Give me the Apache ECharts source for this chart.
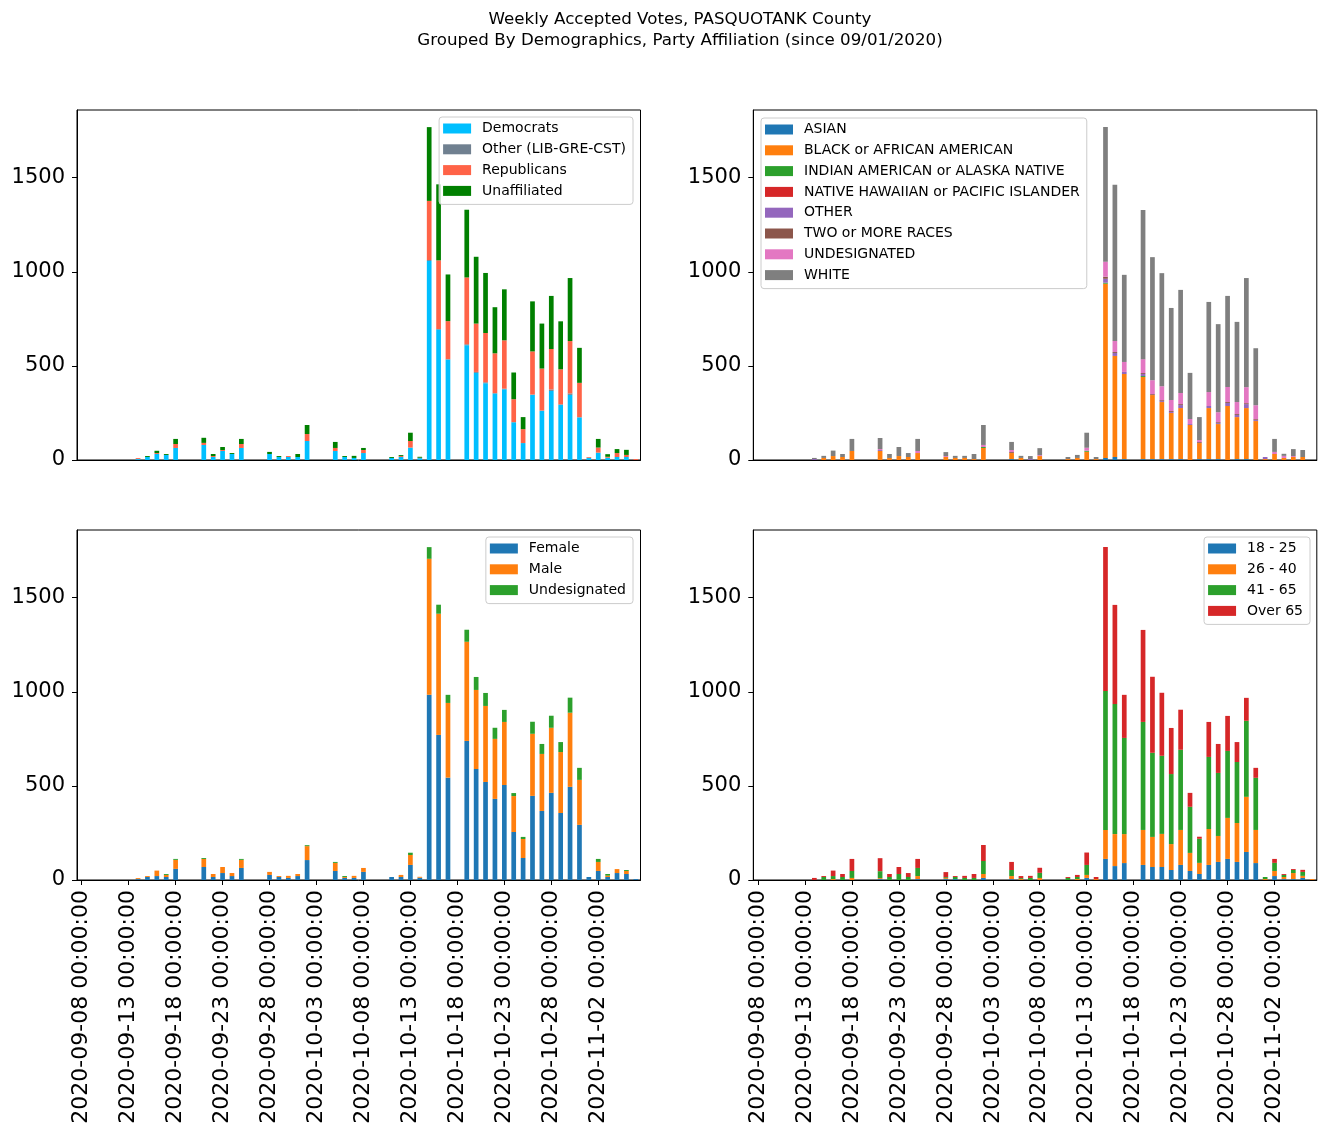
<!DOCTYPE html>
<html>
<head>
<meta charset="utf-8">
<script src="https://cdn.jsdelivr.net/npm/echarts@6/dist/echarts.min.js"></script>
<style>
html,body{margin:0;padding:0;background:#fff;}
#chart{width:1326px;height:1137px;}
</style>
</head>
<body>
<div id="chart"></div>
<script>
// ---- data ----
const barDates = ['2020-09-14','2020-09-15','2020-09-16','2020-09-17','2020-09-18',
  '2020-09-21','2020-09-22','2020-09-23','2020-09-24','2020-09-25',
  '2020-09-28','2020-09-29','2020-09-30','2020-10-01','2020-10-02',
  '2020-10-05','2020-10-06','2020-10-07','2020-10-08',
  '2020-10-11','2020-10-12','2020-10-13','2020-10-14',
  '2020-10-15','2020-10-16','2020-10-17',
  '2020-10-19','2020-10-20','2020-10-21','2020-10-22','2020-10-23','2020-10-24','2020-10-25',
  '2020-10-26','2020-10-27','2020-10-28','2020-10-29','2020-10-30','2020-10-31','2020-11-01',
  '2020-11-02','2020-11-03','2020-11-04','2020-11-05','2020-11-06'];

const tickLabels = ['2020-09-08 00:00:00','2020-09-13 00:00:00','2020-09-18 00:00:00','2020-09-23 00:00:00',
  '2020-09-28 00:00:00','2020-10-03 00:00:00','2020-10-08 00:00:00','2020-10-13 00:00:00',
  '2020-10-18 00:00:00','2020-10-23 00:00:00','2020-10-28 00:00:00','2020-11-02 00:00:00'];
const yTicks = [0, 500, 1000, 1500];

// Party
const democrats    = [5,16,32,27,64, 80,16,48,32,64, 32,16,16,16,101, 48,16,11,37, 11,16,66,10, 1058,693,534, 610,463,408,353,376,200,90, 346,261,367,293,346,227,12, 39,12,16,16,0];
const otherParty   = [0,0,0,0,0, 0,0,0,0,0, 0,0,0,0,0, 0,0,0,0, 0,0,0,0, 5,3,2, 5,5,5,3,3,2,0, 2,2,8,3,8,0,0, 0,0,0,0,0];
const republicans  = [5,0,5,0,21, 11,5,5,0,21, 0,0,5,0,37, 16,0,0,16, 0,5,35,2, 314,365,202, 355,257,262,211,257,121,74, 229,223,215,186,278,183,4, 27,5,21,11,5];
const unaffiliated = [0,5,12,5,27, 27,11,16,5,27, 11,5,0,16,48, 32,5,11,11, 5,5,44,5, 392,404,248, 360,355,319,245,271,142,64, 266,239,282,255,335,186,0, 46,14,21,27,0];

// Race
const asian      = [0,0,0,0,0, 0,0,0,0,0, 0,0,0,0,0, 5,0,0,0, 0,0,0,0, 11,16,5, 5,5,5,5,5,0,5, 5,5,0,5,5,0,0, 0,0,0,0,0];
const black      = [0,11,21,16,48, 48,11,21,16,37, 16,11,11,5,64, 32,11,0,21, 5,11,44,5, 926,537,452, 436,340,303,245,271,186,85, 271,186,287,223,271,207,5, 32,11,16,16,0];
const indian     = [0,0,0,0,0, 0,0,0,0,0, 0,0,0,0,5, 0,0,0,0, 0,0,5,0, 5,0,0, 5,0,0,0,0,0,0, 0,0,0,0,0,0,0, 0,0,0,0,0];
const hawaiian   = [0,0,0,0,0, 0,0,0,0,0, 0,0,0,0,0, 0,0,0,0, 0,0,0,0, 0,0,0, 0,0,0,0,0,0,0, 0,0,0,0,0,0,0, 0,0,0,0,0];
const otherRace  = [5,0,0,0,0, 5,0,0,0,0, 0,0,0,0,0, 0,0,5,0, 0,0,0,0, 21,16,11, 11,0,5,5,16,5,0, 11,5,16,11,21,5,11, 0,0,0,0,0];
const twoOrMore  = [0,0,0,0,0, 0,0,0,0,0, 0,0,0,0,0, 5,0,0,0, 0,0,0,0, 11,5,0, 5,5,5,5,5,0,5, 0,5,5,5,5,5,0, 0,0,0,0,0];
const undesRace  = [0,0,0,0,0, 5,0,0,0,11, 5,0,0,0,11, 11,0,0,5, 0,0,16,0, 80,59,53, 74,74,74,59,59,27,11, 74,53,80,64,85,74,0, 11,11,5,0,0];
const white      = [6,11,29,16,64, 59,21,48,21,64, 21,11,11,27,106, 43,11,16,37, 11,16,80,11, 716,830,463, 793,654,601,489,548,245,122, 479,468,484,426,580,303,0, 69,11,37,37,5];

// Gender
const female     = [5,16,21,16,59, 69,16,37,21,64, 27,16,11,21,106, 48,11,11,43, 16,16,80,12, 984,771,544, 739,590,521,431,505,255,117, 447,367,463,356,495,293,16, 48,16,37,32,5];
const male       = [5,5,29,11,48, 43,16,32,16,43, 16,5,11,11,74, 43,5,11,21, 0,11,53,5, 723,644,397, 527,420,404,319,335,191,101, 330,303,346,324,394,239,0, 48,7,21,16,0];
const undesSex   = [0,0,0,5,5, 5,0,0,0,5, 0,0,0,0,5, 5,5,0,0, 0,0,12,0, 62,48,43, 64,69,69,59,64,16,11, 64,53,64,53,80,64,0, 16,9,0,5,0];

// Age
const age18to25  = [0,0,0,0,0, 5,0,0,0,5, 5,5,0,0,11, 5,0,0,0, 0,0,11,0, 112,74,90, 80,69,69,53,80,48,32, 80,96,112,96,149,90,0, 21,5,5,11,0];
const age26to40  = [0,0,5,0,11, 5,0,0,0,16, 5,0,0,0,21, 16,5,0,11, 0,5,16,5, 154,170,154, 186,160,176,138,186,96,59, 191,138,218,207,293,176,5, 27,11,32,11,5];
const age41to65  = [0,16,16,16,37, 37,16,32,16,43, 5,11,11,11,69, 32,5,11,27, 11,11,53,0, 739,691,511, 574,447,415,372,426,245,128, 383,335,356,324,404,277,11, 43,11,16,21,0];
const ageOver65  = [11,5,29,16,64, 69,16,37,21,48, 27,5,11,21,85, 43,11,11,27, 5,11,66,11, 764,527,229, 489,404,335,245,213,74,11, 186,154,186,106,122,53,0, 21,5,5,11,0];

// ---- axis days (2020-09-08 .. 2020-11-06) ----
const days = [];
for (let i = 0; i < 60; i++) {
  const d = new Date(Date.UTC(2020, 8, 8 + i));
  days.push(d.toISOString().slice(0, 10) + ' 00:00:00');
}
function toAxis(vals) {
  const out = days.map(() => null);
  barDates.forEach((dt, k) => {
    const idx = days.indexOf(dt + ' 00:00:00');
    if (idx >= 0) out[idx] = vals[k];
  });
  return out;
}

const FONT = 'DejaVu Sans';
const panels = [
  {grid: 0, stack: 'party', legend: {right: 693, top: 117}, series: [
    ['Democrats', democrats, '#00bfff'], ['Other (LIB-GRE-CST)', otherParty, '#708090'],
    ['Republicans', republicans, '#ff6347'], ['Unaffiliated', unaffiliated, '#008000']]},
  {grid: 1, stack: 'race', legend: {left: 761, top: 118}, series: [
    ['ASIAN', asian, '#1f77b4'], ['BLACK or AFRICAN AMERICAN', black, '#ff7f0e'],
    ['INDIAN AMERICAN or ALASKA NATIVE', indian, '#2ca02c'], ['NATIVE HAWAIIAN or PACIFIC ISLANDER', hawaiian, '#d62728'],
    ['OTHER', otherRace, '#9467bd'], ['TWO or MORE RACES', twoOrMore, '#8c564b'],
    ['UNDESIGNATED', undesRace, '#e377c2'], ['WHITE', white, '#7f7f7f']]},
  {grid: 2, stack: 'gender', legend: {right: 693, top: 537}, series: [
    ['Female', female, '#1f77b4'], ['Male', male, '#ff7f0e'], ['Undesignated', undesSex, '#2ca02c']]},
  {grid: 3, stack: 'age', legend: {right: 16, top: 537}, series: [
    ['18 - 25', age18to25, '#1f77b4'], ['26 - 40', age26to40, '#ff7f0e'],
    ['41 - 65', age41to65, '#2ca02c'], ['Over 65', ageOver65, '#d62728']]}
];

const gridPos = [
  {left: 77, top: 110, width: 563.5, height: 350},
  {left: 753.3, top: 110, width: 563.5, height: 350},
  {left: 77, top: 530, width: 563.5, height: 350},
  {left: 753.3, top: 530, width: 563.5, height: 350}
];

const grids = gridPos.map(g => Object.assign({show: true, borderColor: '#000', borderWidth: 1, backgroundColor: 'transparent', containLabel: false}, g));

const xAxes = gridPos.map((g, i) => {
  const bottom = i >= 2;
  return {
    type: 'category', gridIndex: i, data: days, boundaryGap: true,
    axisLine: {show: true, lineStyle: {color: '#000', width: 1}},
    axisTick: {show: bottom, interval: 4, alignWithLabel: true, length: 5, lineStyle: {color: '#000', width: 1}},
    axisLabel: {show: bottom, interval: 4, rotate: 90, margin: 10, fontSize: 22, fontFamily: FONT, color: '#000',
      formatter: v => tickLabels.indexOf(v) >= 0 ? v : ''},
    splitLine: {show: false}
  };
});

const yAxes = gridPos.map((g, i) => ({
  type: 'value', gridIndex: i, min: 0, max: 1860,
  axisLine: {show: true, lineStyle: {color: '#000', width: 1}},
  axisTick: {show: true, length: 5, customValues: yTicks, lineStyle: {color: '#000', width: 1}},
  axisLabel: {show: true, customValues: yTicks, margin: 12, fontSize: 21, fontFamily: FONT, color: '#000',
    formatter: v => String(v)},
  splitLine: {show: false}
}));

const series = [];
const legends = [];
panels.forEach(p => {
  p.series.forEach(([name, vals, color]) => {
    series.push({
      name: name, type: 'bar', stack: p.stack, xAxisIndex: p.grid, yAxisIndex: p.grid,
      data: toAxis(vals), barWidth: '50%', itemStyle: {color: color}, emphasis: {disabled: true}
    });
  });
  legends.push(Object.assign({
    data: p.series.map(s => s[0]), orient: 'vertical', icon: 'rect',
    itemWidth: 28, itemHeight: 10, itemGap: 3.8, selectedMode: false,
    textStyle: {fontSize: 14, fontFamily: FONT, color: '#000', lineHeight: 17, padding: [0, 0, 0, 6]},
    borderColor: '#cccccc', borderWidth: 1, borderRadius: 3,
    backgroundColor: 'rgba(255,255,255,0.8)', padding: [3, 7, 5, 4]
  }, p.legend));
});

const chart = echarts.init(document.getElementById('chart'), null, {renderer: 'canvas'});
chart.setOption({
  animation: false,
  backgroundColor: '#fff',
  title: {
    text: 'Weekly Accepted Votes, PASQUOTANK County\nGrouped By Demographics, Party Affiliation (since 09/01/2020)',
    left: 675, top: 4, textAlign: 'center',
    textStyle: {fontSize: 16.7, fontWeight: 'normal', fontFamily: FONT, color: '#000', lineHeight: 21}
  },
  grid: grids,
  xAxis: xAxes,
  yAxis: yAxes,
  legend: legends,
  series: series
});
</script>
</body>
</html>
